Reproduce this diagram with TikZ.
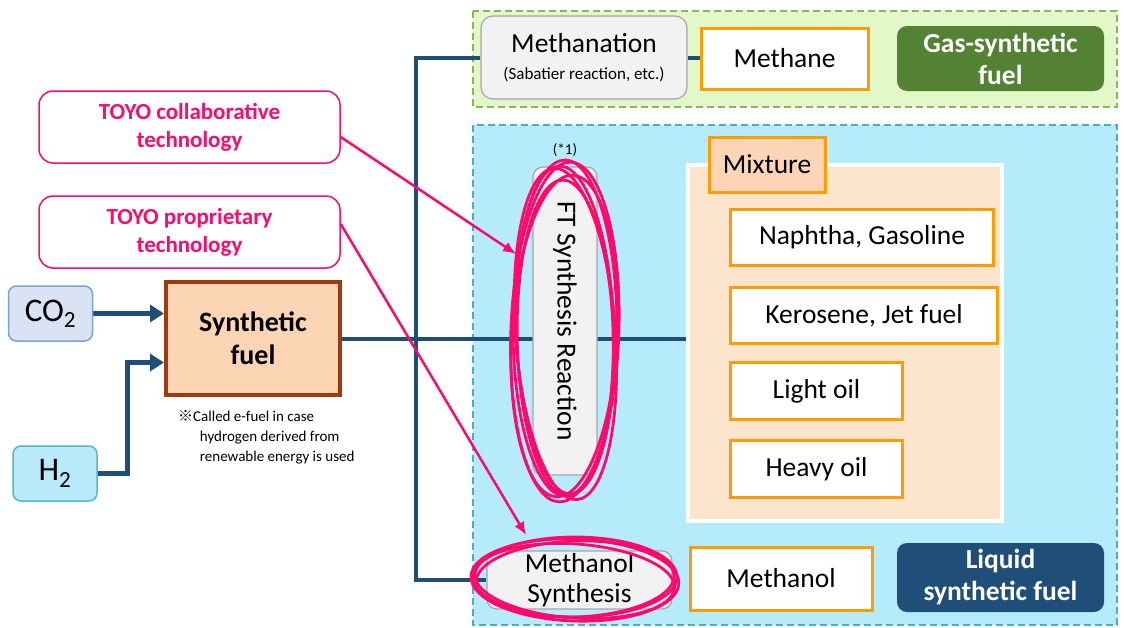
\documentclass[tikz,border=0pt]{standalone}
\usepackage{fontspec}
\setmainfont{Carlito}
\newfontfamily\cjkfont{Noto Sans CJK JP}
\usetikzlibrary{arrows.meta,positioning,calc}

\definecolor{lineblue}{HTML}{1F4E79}
\definecolor{prodorange}{HTML}{FF9D00}
\definecolor{pinkc}{HTML}{FF0A6C}
\definecolor{gasfill}{HTML}{E3F8C9}
\definecolor{gasdash}{HTML}{8AB657}
\definecolor{liqfill}{HTML}{B6EBFC}
\definecolor{liqdash}{HTML}{4BACC6}
\definecolor{gasgreen}{HTML}{548235}
\definecolor{mixfill}{HTML}{FDE4CC}
\definecolor{mixlabel}{HTML}{FBD5B5}
\definecolor{synthfill}{HTML}{FCD5B5}
\definecolor{synthedge}{HTML}{9E3A0E}
\definecolor{coofill}{HTML}{DAE3F3}
\definecolor{cooedge}{HTML}{7EA1D5}
\definecolor{hydfill}{HTML}{B8EAF9}
\definecolor{hydedge}{HTML}{55B5D0}
\definecolor{procfill}{HTML}{F2F2F2}
\definecolor{procgray}{HTML}{A6A6A6}

\pgfdeclarelayer{zones}
\pgfdeclarelayer{lines}
\pgfsetlayers{zones,lines,main}

\tikzset{
  zone/.style={line width=2pt,dash pattern=on 7pt off 4pt},
  mainline/.style={draw=lineblue,line width=4pt},
  feed/.style={draw=lineblue,line width=5pt,-{Triangle[length=14pt,width=17pt]}},
  process/.style={draw=procgray,fill=procfill,line width=1.2pt,rounded corners=12pt,
    inner sep=0pt,align=center,font=\fontsize{27.5}{30}\selectfont},
  product/.style={draw=prodorange,fill=white,line width=3pt,inner sep=0pt,
    font=\fontsize{27.5}{33}\selectfont},
  fuelkind/.style={rounded corners=10pt,inner sep=0pt,text=white,align=center,
    font=\bfseries\fontsize{27.5}{32}\selectfont},
  tech/.style={draw=pinkc,fill=white,line width=1.5pt,rounded corners=14pt,inner sep=0pt,
    minimum width=301,minimum height=72,align=center,text=pinkc,
    font=\bfseries\fontsize{23}{28}\selectfont},
  feedstock/.style={rounded corners=8pt,line width=1.5pt,minimum width=84,minimum height=55,
    inner sep=0pt,font=\fontsize{33}{36}\selectfont},
  scribble/.style={draw=pinkc,line width=2.8pt},
  pointer/.style={draw=pinkc,line width=2.5pt,-{Latex[length=13pt,width=11pt]}},
}

\begin{document}
\begin{tikzpicture}[x=1pt,y=-1pt]
  \useasboundingbox (0,0) rectangle (1124,627);

  % product zones
  \begin{pgfonlayer}{zones}
    \draw[zone,draw=gasdash,fill=gasfill] (473,11) rectangle (1117,107);
    \draw[zone,draw=liqdash,fill=liqfill] (473,125) rectangle (1117,625);
  \end{pgfonlayer}

  % feedstock and synthetic fuel
  \node[feedstock,draw=cooedge,fill=coofill] (co2) at (50.5,313.5) {CO\textsubscript{2}};
  \node[feedstock,draw=hydedge,fill=hydfill] (h2) at (55,473.5) {H\textsubscript{2}};
  \node[draw=synthedge,fill=synthfill,line width=4pt,minimum width=174,minimum height=113,
    inner sep=0pt,align=center,font=\bfseries\fontsize{28}{33}\selectfont] (synth) at (253,338.5) {Synthetic\\fuel};
  \node[anchor=north west,align=left,inner sep=0pt,font=\fontsize{15}{20}\selectfont] (note) at (178,410)
    {{\cjkfont ※}Called e-fuel in case\\\hspace*{1.45em}hydrogen derived from\\\hspace*{1.45em}renewable energy is used};

  % technology labels
  \node[tech] (collab) at (189.5,127) {TOYO collaborative\\technology};
  \node[tech] (propr) at (189.5,232) {TOYO proprietary\\technology};

  % gas route
  \node[process,minimum width=206,minimum height=83] (methanation) at (584,57.5)
    {Methanation\\[-3pt]{\fontsize{17}{20}\selectfont (Sabatier reaction, etc.)}};
  \node[product,minimum width=167,minimum height=61] (methane) at (784.5,58.5) {Methane};
  \node[fuelkind,fill=gasgreen,minimum width=207,minimum height=65] (gasfuel) at (1000.5,58.5) {Gas-synthetic\\fuel};

  % FT route
  \node[font=\fontsize{15}{18}\selectfont,inner sep=0pt] (fnote) at (565,150) {(*1)};
  \node[process,rounded corners=10pt,rotate=-90,minimum width=308,minimum height=64] (ft) at (565,321)
    {FT Synthesis Reaction};
  \node[draw=white,fill=mixfill,line width=4pt,minimum width=314,minimum height=356] (mix) at (845,343) {};
  \node[product,fill=mixlabel,minimum width=116,minimum height=55] (mixture) at (767,164.5) {Mixture};
  \node[product,anchor=north west,minimum width=263,minimum height=56] (naphtha) at (729,208) {Naphtha, Gasoline};
  \node[product,anchor=north west,minimum width=267,minimum height=56] (kerosene) at (729,286) {Kerosene, Jet fuel};
  \node[product,anchor=north west,minimum width=172,minimum height=57] (lightoil) at (729,361) {Light oil};
  \node[product,anchor=north west,minimum width=172,minimum height=57] (heavyoil) at (729,439) {Heavy oil};

  % methanol route
  \node[process,rounded corners=10pt,minimum width=185,minimum height=58] (methsyn) at (579.5,580)
    {Methanol\\Synthesis};
  \node[product,minimum width=182,minimum height=63] (methanol) at (781,578.5) {Methanol};
  \node[fuelkind,fill=lineblue,minimum width=207,minimum height=69] (liqfuel) at (1000.5,577.5) {Liquid\\synthetic fuel};

  % connectors
  \coordinate (trunk) at (416,0);
  \begin{pgfonlayer}{lines}
    \draw[feed] (co2.east) -- (co2.east -| synth.west);
    \draw[feed] (h2.east) -- ++(30,0) |- ([yshift=-24pt]synth.west);
    \draw[mainline] (synth.east) -- (synth.east -| mix.west);
    \draw[mainline] (methanation.west) -- (methanation.west -| trunk)
      -- (methsyn.west -| trunk) -- (methsyn.west);
    \draw[mainline] (methanation.east) -- (methanation.east -| methane.west);
  \end{pgfonlayer}

  % highlight rings
  \coordinate (ftring) at (565,328);
  \coordinate (msring) at (575,577);
  \foreach \a/\b/\r/\d in {52/168/0/0,49/164/2/2,54/170/-2/4,50/166/4/6,53/161/-3/8,48/158/1/10}
    \draw[scribble,rotate around={\r:(ftring)}] ([yshift=-\d pt]ftring) ellipse ({\a} and {\b});
  \foreach \a/\b/\r/\d in {102/40/0/0,99/38/2/2,104/41/-2/3,100/37/-4/4}
    \draw[scribble,rotate around={\r:(msring)}] ([yshift=-\d pt]msring) ellipse ({\a} and {\b});

  \coordinate (fthit) at (516,254);
  \coordinate (mshit) at (526,535);
  \draw[pointer] ([yshift=-10pt]collab.east) -- (fthit);
  \draw[pointer] ([yshift=8pt]propr.east) -- (mshit);
\end{tikzpicture}
\end{document}
